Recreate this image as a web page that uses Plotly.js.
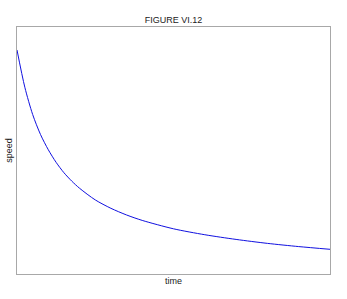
<!DOCTYPE html>
<html>
<head>
<meta charset="utf-8">
<script src="https://cdn.plot.ly/plotly-3.0.1.min.js"></script>
<style>html,body{margin:0;padding:0;background:#fff;}#chart{width:347px;height:299px;}</style>
</head>
<body>
<div id="chart"></div>
<script>
var time = [0, 0.25, 0.5, 0.75, 1, 1.25, 1.5, 1.75, 2, 2.5, 3, 3.5, 4, 5, 6, 7, 8, 9, 10];
var speed = [90.7, 75.6, 64.6, 56.5, 50.3, 45.2, 41.0, 37.6, 34.7, 30.0, 26.6, 23.9, 21.7, 18.3, 15.9, 14.0, 12.4, 11.1, 10.0];

var trace = {
  x: time, y: speed, type: 'scatter', mode: 'lines',
  line: {color: '#1010e0', width: 1, shape: 'spline', smoothing: 0.8},
  hoverinfo: 'skip'
};
var axisBase = {
  showgrid: false, zeroline: false, showticklabels: false, ticks: '',
  showline: true, mirror: true, linecolor: '#a8a8a8', linewidth: 1
};
var layout = {
  width: 347, height: 299,
  margin: {l: 17, r: 17, t: 27, b: 25, pad: 0},
  paper_bgcolor: '#fff', plot_bgcolor: '#fff',
  showlegend: false,
  font: {family: 'Liberation Sans, Arial, sans-serif', size: 9, color: '#222'},
  title: {text: 'FIGURE VI.12', font: {size: 9, color: '#222'}, x: 0.5, xref: 'paper', y: 1 - 20/299, yref: 'container', yanchor: 'middle'},
  xaxis: Object.assign({}, axisBase, {range: [0, 10], title: {text: 'time', standoff: 3, font: {size: 9}}}),
  yaxis: Object.assign({}, axisBase, {range: [0, 100], title: {text: 'speed', standoff: 1, font: {size: 9}}})
};
Plotly.newPlot('chart', [trace], layout, {displayModeBar: false, staticPlot: true});
</script>
</body>
</html>
